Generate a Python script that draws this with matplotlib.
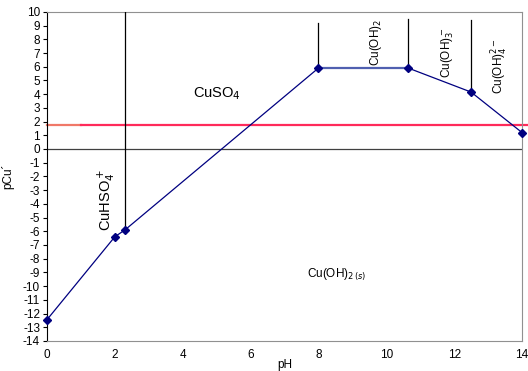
import matplotlib.pyplot as plt
import numpy as np

plt.rcParams['font.family'] = ['Liberation Sans', 'DejaVu Sans']
plt.rcParams['axes.unicode_minus'] = False

# boundary points of the diagram
ph_pts = [0, 2, 2.3, 8, 10.65, 12.5, 14]
pcu_pts = [-12.45, -6.4, -5.9, 5.9, 5.9, 4.15, 1.2]

# vertical separators (pH, bottom, top)
vlines_ph = [2.3, 8, 10.65, 12.5]
vlines_lo = [-5.9, 5.9, 5.9, 4.15]
vlines_hi = [10, 9.2, 9.5, 9.4]

pcu_level = 1.75

fig = plt.figure(figsize=(5.28, 3.71), dpi=100)
ax = fig.add_axes([0.089, 0.081, 0.8996, 0.887])

ax.set_xlim(0, 14)
ax.set_ylim(-14, 10)

ax.axhline(0, color='#404040', lw=0.9, zorder=1)
ax.plot([0, 1], [pcu_level, pcu_level], color='#F07868', lw=1.6, zorder=2, clip_on=False)
ax.plot([1, 14.2], [pcu_level, pcu_level], color='#FF2A5A', lw=1.6, zorder=2, clip_on=False)

for x, lo, hi in zip(vlines_ph, vlines_lo, vlines_hi):
    ax.plot([x, x], [lo, hi], color='black', lw=0.9, zorder=3)

ax.plot(ph_pts, pcu_pts, color='#000080', lw=0.9, zorder=4)
ax.plot(ph_pts[3:5], pcu_pts[3:5], color='#5060B0', lw=1.6, zorder=4)
ax.plot(ph_pts, pcu_pts, ls='none', marker='D', ms=4.5, color='#000080',
        zorder=5, clip_on=False)

ax.set_xticks(np.arange(0, 15, 2))
ax.set_yticks(np.arange(-14, 11, 1))
ax.tick_params(labelsize=8.5, length=3, width=0.8, pad=2)
ax.tick_params(axis='x', length=0, pad=6)

for s in ['top', 'right']:
    ax.spines[s].set_color('#909090')
ax.spines['left'].set_color('black')
ax.spines['bottom'].set_color('#909090')

ax.set_ylabel('pCu´', fontsize=8.5)
ax.yaxis.set_label_coords(-0.068, 0.5)
ax.set_xlabel('pH', fontsize=8.5)
ax.xaxis.set_label_coords(0.501, -0.055)

ax.text(5.0, 4.0, 'CuSO$_4$', fontsize=10.5, ha='center', va='center')
ax.text(8.55, -9.2, 'Cu(OH)$_{2\\,(s)}$', fontsize=8.5, ha='center', va='center')
ax.text(1.75, -3.7, 'CuHSO$_4^+$', fontsize=10.5, rotation=90, ha='center', va='center')
ax.text(9.7, 7.8, 'Cu(OH)$_2$', fontsize=8.5, rotation=90, ha='center', va='center')
ax.text(11.8, 7.0, 'Cu(OH)$_3^-$', fontsize=8.5, rotation=90, ha='center', va='center')
ax.text(13.35, 6.0, 'Cu(OH)$_4^{2-}$', fontsize=8.5, rotation=90, ha='center', va='center')

fig.savefig('out.png', dpi=100)
